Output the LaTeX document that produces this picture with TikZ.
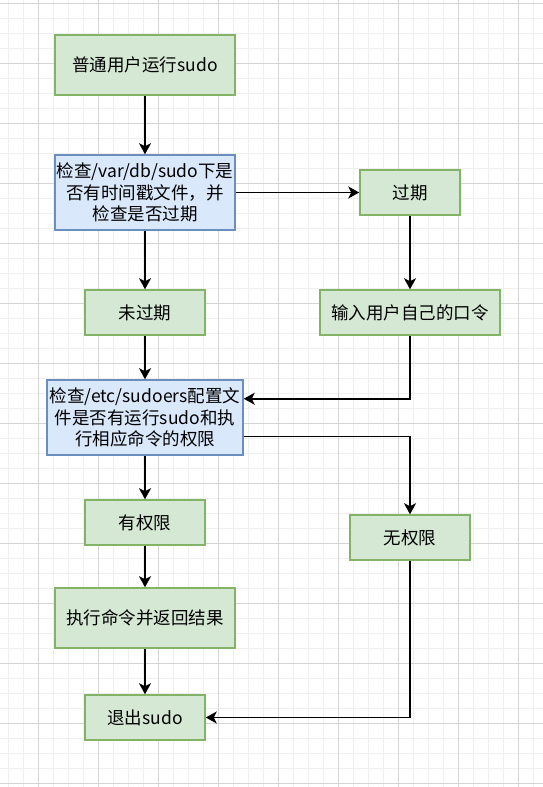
\documentclass[tikz,border=0pt]{standalone}
\usepackage{fontspec}
\setmainfont{Noto Sans CJK SC}
\usetikzlibrary{arrows.meta}
\definecolor{gfill}{HTML}{D5E8D4}
\definecolor{gline}{HTML}{82B366}
\definecolor{bfill}{HTML}{DAE8FC}
\definecolor{bline}{HTML}{6C8EBF}
\definecolor{gridmajor}{HTML}{D4D4D4}
\definecolor{gridminor}{HTML}{EFEFEF}

\begin{document}
\begin{tikzpicture}[x=1pt, y=-1pt,
	green box/.style={draw=gline, fill=gfill, line width=1.5pt, align=center, inner sep=0pt,
		font=\fontsize{17.5}{21.5}\selectfont},
	blue box/.style={green box, draw=bline, fill=bfill},
	flow/.style={-{Stealth[length=11pt, width=12pt, inset=3pt]}, line width=1.5pt}]
	\useasboundingbox (0,0) rectangle (543,787);
	\fill[white] (0,0) rectangle (543,787);

	\foreach \gx in {8.5,23.5,...,543} \draw[gridminor, line width=1pt] (\gx,0) -- (\gx,787);
	\foreach \gy in {3.5,18.5,...,787} \draw[gridminor, line width=1pt] (0,\gy) -- (543,\gy);
	\foreach \gx in {38.5,98.5,...,543} \draw[gridmajor, line width=1pt] (\gx,0) -- (\gx,787);
	\foreach \gy in {3.5,63.5,...,787} \draw[gridmajor, line width=1pt] (0,\gy) -- (543,\gy);

	\node[green box, minimum width=180pt, minimum height=60pt] (start) at (145,65) {普通用户运行sudo};
	\node[blue box, minimum width=180pt, minimum height=75pt] (chkts) at (145,192.5) {检查/var/db/sudo下是\\否有时间戳文件，并\\检查是否过期};
	\node[green box, minimum width=100pt, minimum height=45pt] (expired) at (410,192.5) {过期};
	\node[green box, minimum width=120pt, minimum height=45pt] (valid) at (145,312.5) {未过期};
	\node[green box, minimum width=180pt, minimum height=45pt] (passwd) at (410,312.5) {输入用户自己的口令};
	\node[blue box, minimum width=196pt, minimum height=75pt] (chkconf) at (145,417.5) {检查/etc/sudoers配置文\\件是否有运行sudo和执\\行相应命令的权限};
	\node[green box, minimum width=120pt, minimum height=45pt] (allowed) at (145,522.5) {有权限};
	\node[green box, minimum width=120pt, minimum height=45pt] (denied) at (410,537.5) {无权限};
	\node[green box, minimum width=180pt, minimum height=60pt] (run) at (145,618) {执行命令并返回结果};
	\node[green box, minimum width=120pt, minimum height=45pt] (quit) at (145,717.5) {退出sudo};

	\draw[flow] (start) -- (chkts);
	\draw[flow] (chkts) -- (expired);
	\draw[flow] (expired) -- (passwd);
	\draw[flow] (chkts) -- (valid);
	\draw[flow] (valid) -- (chkconf);
	\draw[flow] (passwd.south) |- ([yshift=18.75pt]chkconf.east);
	\draw[flow] ([yshift=-18.75pt]chkconf.east) -| (denied.north);
	\draw[flow] (chkconf) -- (allowed);
	\draw[flow] (allowed) -- (run);
	\draw[flow] (run) -- (quit);
	\draw[flow] (denied.south) |- (quit.east);
\end{tikzpicture}
\end{document}
